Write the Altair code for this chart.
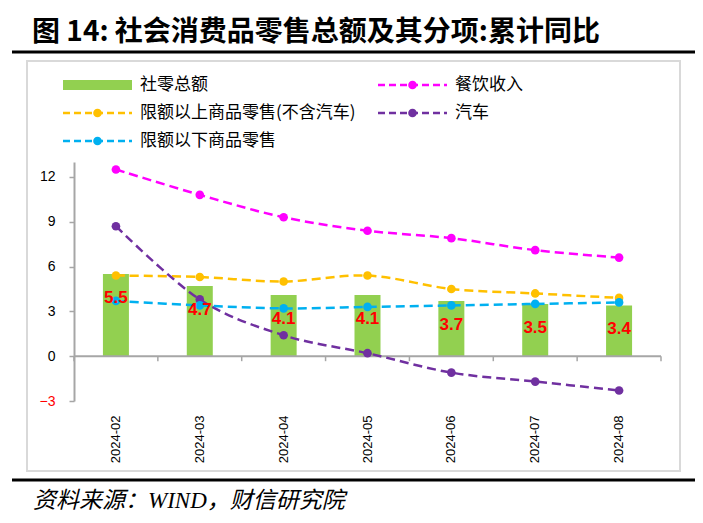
import altair as alt
import pandas as pd

months = ["2024-02", "2024-03", "2024-04", "2024-05", "2024-06", "2024-07", "2024-08"]
total = [5.5, 4.7, 4.1, 4.1, 3.7, 3.5, 3.4]
catering = [12.5, 10.8, 9.3, 8.4, 7.9, 7.1, 6.6]
above_ex_auto = [5.4, 5.3, 5.0, 5.4, 4.5, 4.2, 3.9]
auto = [8.7, 3.8, 1.4, 0.2, -1.1, -1.7, -2.3]
below = [3.7, 3.4, 3.2, 3.3, 3.4, 3.5, 3.6]

series_names = ["社零总额", "餐饮收入", "限额以上商品零售(不含汽车)", "汽车", "限额以下商品零售"]
colors = ["#92D050", "#FF00FF", "#FFC000", "#7030A0", "#00B0F0"]
y_ticks = [-3, 0, 3, 6, 9, 12]
title_text = "图 14: 社会消费品零售总额及其分项:累计同比"
source_text = "资料来源：WIND，财信研究院"

W, H = 587, 239
AX = "#A6A6A6"

bar_df = pd.DataFrame({"month": months, "value": total})
line_series = series_names[1:]
line_values = [catering, above_ex_auto, auto, below]
line_df = pd.DataFrame(
    [{"month": m, "value": v, "series": s, "ord": i}
     for i, (s, vals) in enumerate(zip(line_series, line_values))
     for m, v in zip(months, vals)]
)
one = pd.DataFrame({"k": [0]})

x_axis = alt.Axis(labelAngle=-90, domain=False, ticks=False, labelPadding=14,
                  labelFontSize=13, labelFont="Liberation Sans", labelColor="#000000")
x_scale = alt.Scale(paddingInner=0, paddingOuter=0)
x_enc = alt.X("month:N", sort=months, title=None, scale=x_scale, axis=x_axis)
y_enc = alt.Y(
    "value:Q", title=None,
    scale=alt.Scale(domain=[-3, 13], nice=False, zero=False),
    axis=alt.Axis(values=y_ticks, grid=False, domainColor=AX, domainWidth=2,
                  tickColor=AX, tickWidth=1.5, tickSize=5, labelPadding=14,
                  labelFontSize=14, labelFont="Liberation Sans",
                  labelColor=alt.expr("datum.value < 0 ? '#FF0000' : '#000000'")),
)

bars = alt.Chart(bar_df).mark_bar(size=26, color=colors[0]).encode(x=x_enc, y=y_enc)

zero_line = alt.Chart(one).mark_rule(color=AX, strokeWidth=2).encode(
    y=alt.datum(0), x=alt.value(0), x2=alt.value(W))
y0 = H * 13 / 16
ticks = alt.Chart(bar_df).mark_rule(color=AX, strokeWidth=1.5).encode(
    x=alt.X("month:N", sort=months, bandPosition=0, title=None, scale=x_scale, axis=x_axis),
    y=alt.value(y0), y2=alt.value(y0 + 5))
end_tick = alt.Chart(one).mark_rule(color=AX, strokeWidth=1.5).encode(
    x=alt.value(W), y=alt.value(y0), y2=alt.value(y0 + 5))

color_scale = alt.Scale(domain=line_series, range=colors[1:])
lines = alt.Chart(line_df).mark_line(
    interpolate="cardinal", strokeDash=[9, 5], strokeWidth=2.5
).encode(x=x_enc, y=y_enc,
         color=alt.Color("series:N", scale=color_scale, legend=None),
         order=alt.Order("ord:Q"))

point_layers = []
for s, c, vals in zip(line_series, colors[1:], line_values):
    d = pd.DataFrame({"month": months, "value": vals})
    point_layers.append(
        alt.Chart(d).mark_point(filled=True, size=75, opacity=1, color=c).encode(x=x_enc, y=y_enc))

labels = alt.Chart(bar_df).mark_text(
    color="#FF0000", fontWeight="bold", fontSize=17, font="Liberation Sans",
    dy=24, baseline="middle"
).encode(x=x_enc, y=y_enc, text=alt.Text("value:Q", format=".1f"))

# decorations (pixel positions relative to plot area)
frame = alt.Chart(one).mark_rect(fillOpacity=0, stroke="#D9D9D9", strokeWidth=2).encode(
    x=alt.value(-47), x2=alt.value(606), y=alt.value(-101), y2=alt.value(309))
top_rule = alt.Chart(one).mark_rule(color="#000000", strokeWidth=3).encode(
    x=alt.value(-62), x2=alt.value(622), y=alt.value(-110))
bottom_rule = alt.Chart(one).mark_rule(color="#000000", strokeWidth=3).encode(
    x=alt.value(-62), x2=alt.value(622), y=alt.value(318))
title = alt.Chart(one).mark_text(
    align="left", baseline="alphabetic", fontSize=28, fontWeight="bold",
    font="Noto Sans CJK SC", color="#000000"
).encode(x=alt.value(-42), y=alt.value(-121), text=alt.value(title_text))
source = alt.Chart(one).mark_text(
    align="left", baseline="alphabetic", fontSize=23, fontStyle="italic",
    font="Liberation Serif, Noto Sans CJK SC", color="#000000"
).encode(x=alt.value(-41), y=alt.value(346), text=alt.value(source_text))

legend_layers = []
for i, (name, c) in enumerate(zip(series_names, colors)):
    col, row = i % 2, i // 2
    sx0 = -11 + col * 315
    sx1 = sx0 + 69
    ly = -77 + row * 28
    if i == 0:
        legend_layers.append(alt.Chart(one).mark_rect(color=c).encode(
            x=alt.value(sx0), x2=alt.value(sx1), y=alt.value(ly - 5), y2=alt.value(ly + 5)))
    else:
        legend_layers.append(alt.Chart(one).mark_rule(color=c, strokeWidth=2.5, strokeDash=[7, 4]).encode(
            x=alt.value(sx0), x2=alt.value(sx1), y=alt.value(ly)))
        legend_layers.append(alt.Chart(one).mark_point(filled=True, size=75, opacity=1, color=c).encode(
            x=alt.value((sx0 + sx1) / 2), y=alt.value(ly)))
    legend_layers.append(alt.Chart(one).mark_text(
        align="left", baseline="middle", fontSize=17, font="Noto Sans CJK SC", color="#000000"
    ).encode(x=alt.value(sx1 + 8), y=alt.value(ly), text=alt.value(name)))

chart = alt.layer(
    frame, top_rule, bottom_rule, title, source,
    bars, zero_line, ticks, end_tick, lines, *point_layers, labels, *legend_layers
).properties(
    width=W, height=H,
    autosize=alt.AutoSizeParams(type="none"),
    padding={"left": 66, "top": 154, "right": 34, "bottom": 114},
    background="#FFFFFF",
).configure_view(strokeWidth=0)

chart.save("out.html", embed_options={"renderer": "svg", "actions": False})
